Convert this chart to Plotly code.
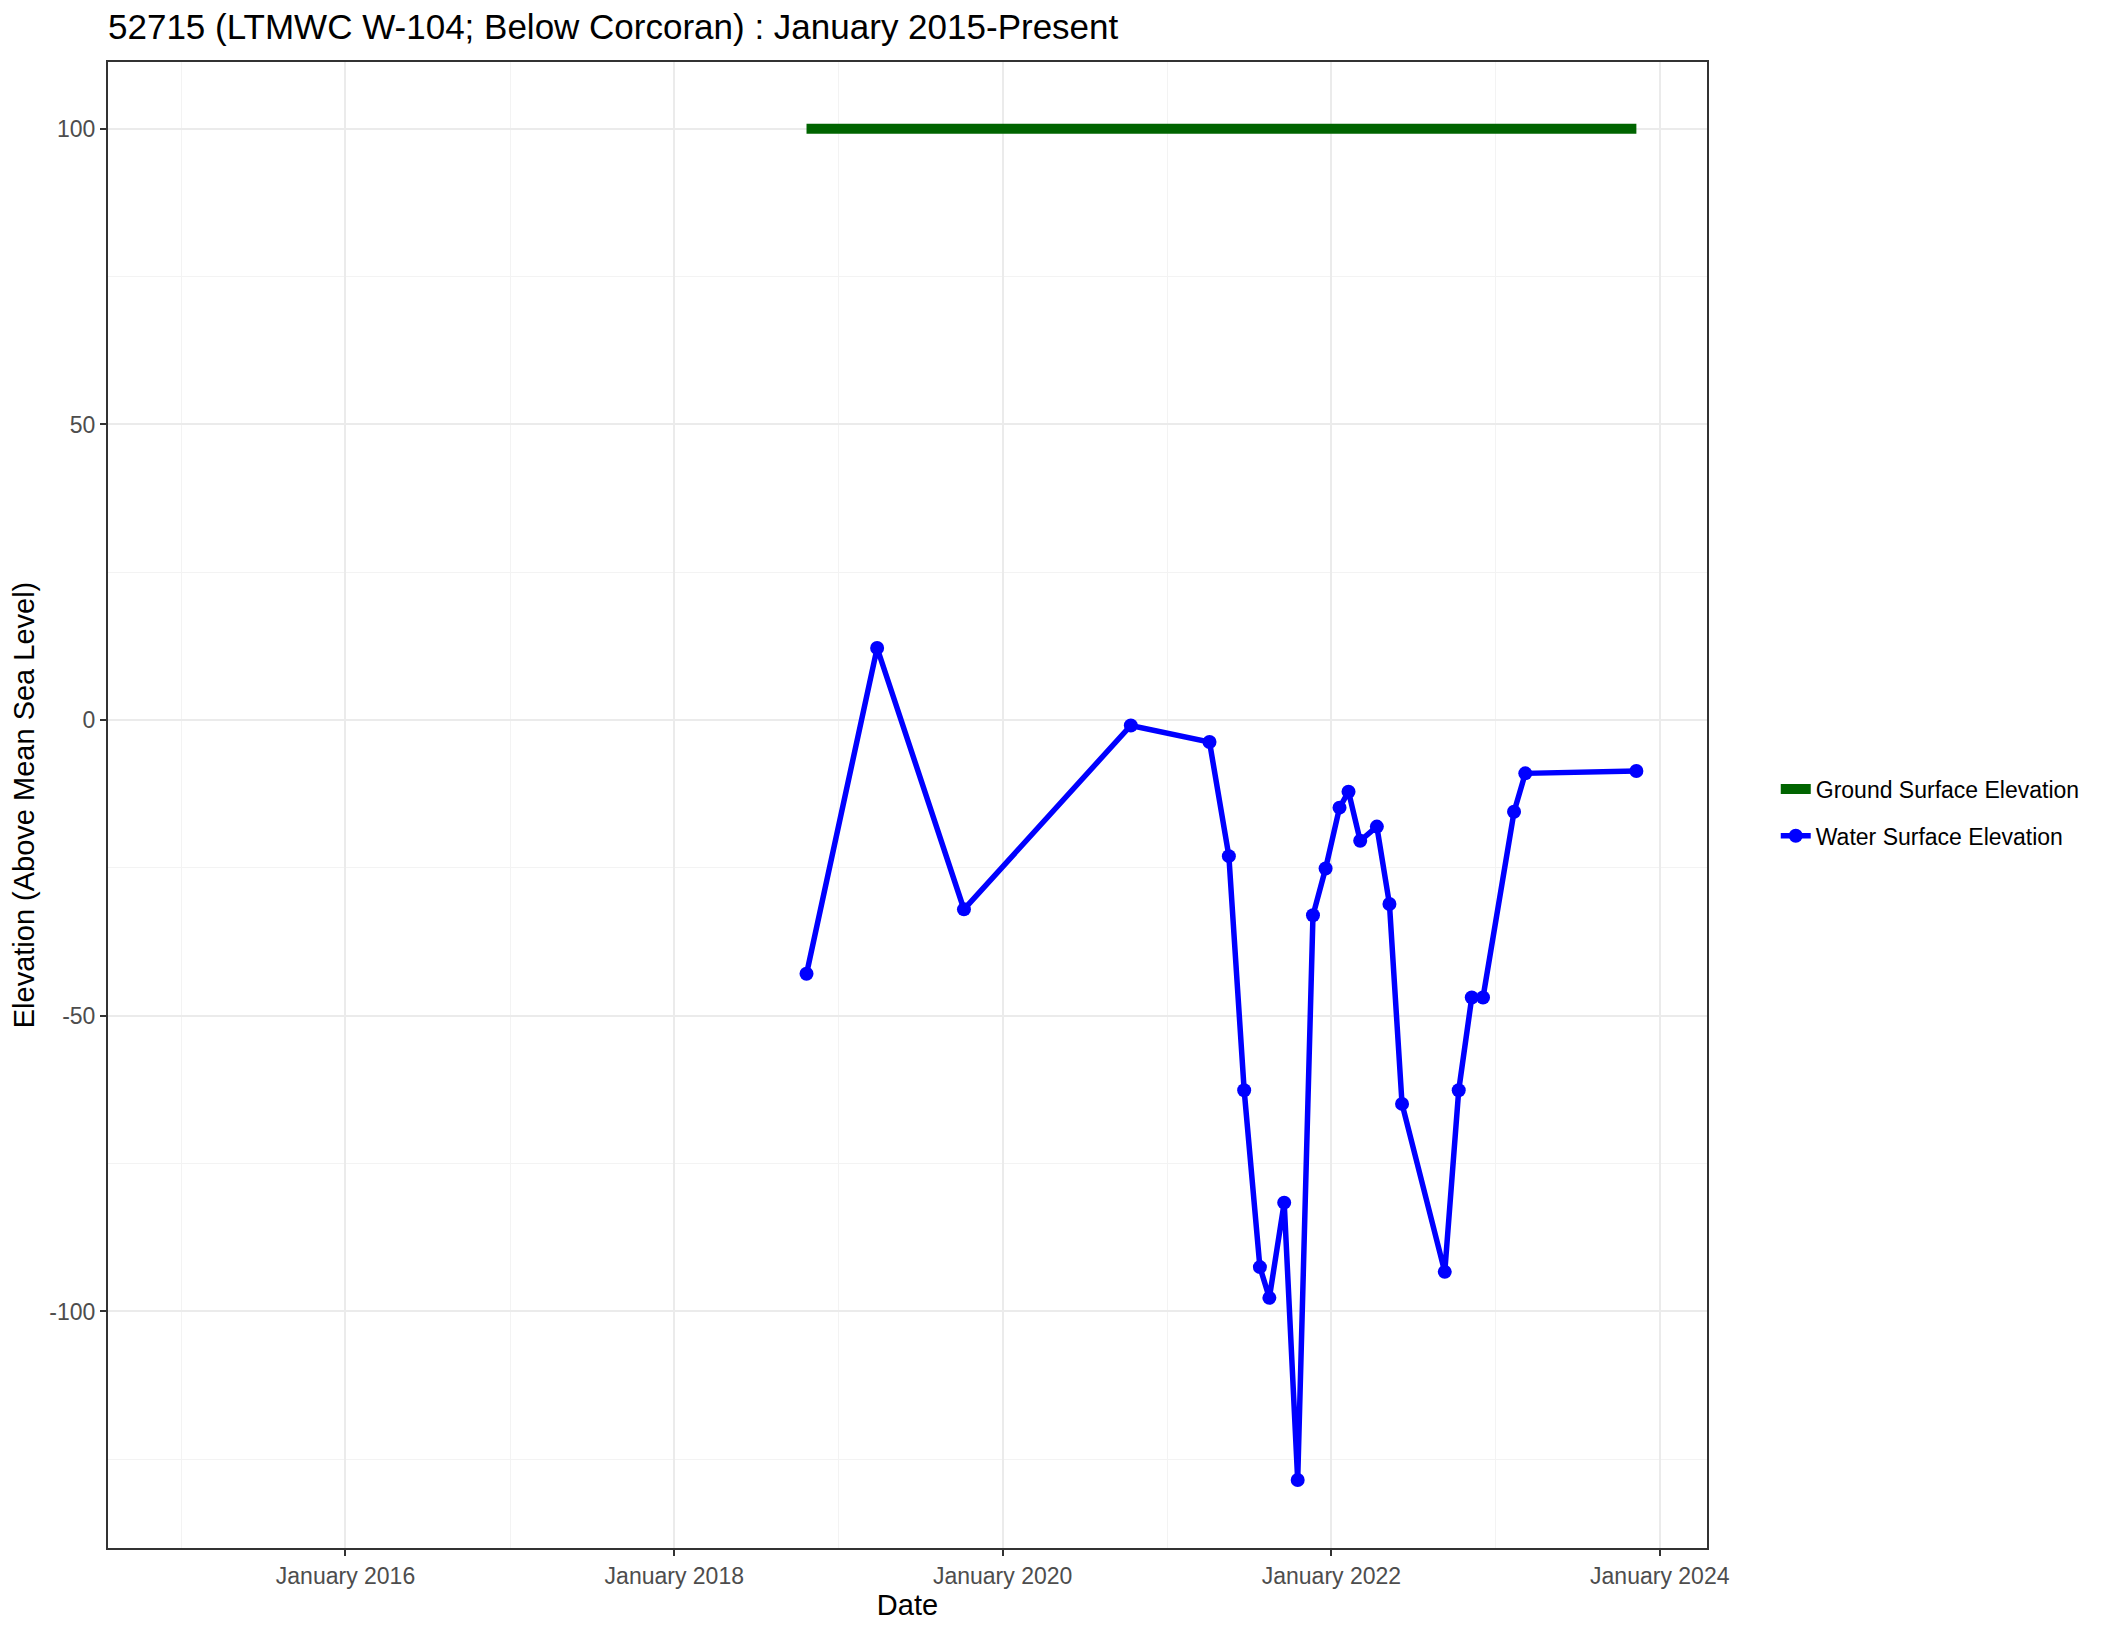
import plotly.graph_objects as go

# ---- data ----
ground_dates = ["2018-10-22", "2023-11-10"]
ground_elev = [100, 100]

water_dates = [
    "2018-10-22", "2019-03-28", "2019-10-07", "2020-10-12", "2021-04-05",
    "2021-05-18", "2021-06-21", "2021-07-26", "2021-08-16", "2021-09-18",
    "2021-10-18", "2021-11-21", "2021-12-19", "2022-01-19", "2022-02-08",
    "2022-03-06", "2022-04-12", "2022-05-10", "2022-06-07", "2022-09-10",
    "2022-10-11", "2022-11-09", "2022-12-04", "2023-02-11", "2023-03-08",
    "2023-11-10",
]
water_elev = [
    -42.9, 12.2, -32.0, -0.9, -3.7,
    -23.0, -62.6, -92.5, -97.7, -81.6,
    -128.5, -33.0, -25.1, -14.8, -12.1,
    -20.4, -18.0, -31.1, -64.9, -93.3,
    -62.6, -46.9, -46.9, -15.5, -9.0,
    -8.6,
]

y_tick_vals = [-100, -50, 0, 50, 100]
y_tick_text = ["-100", "-50", "0", "50", "100"]

title_text = "52715 (LTMWC W-104; Below Corcoran) : January 2015-Present"
x_title = "Date"
y_title = "Elevation (Above Mean Sea Level)"

FONT = "Liberation Sans, Arial, Helvetica, sans-serif"

# the page body adds an 8px offset, so the figure is sized to fit
W, H = 2105, 1621

fig = go.Figure()
fig.add_trace(go.Scatter(
    x=ground_dates, y=ground_elev, mode="lines",
    name="Ground Surface Elevation", legendgroup="g",
    line=dict(color="#006400", width=10),
))
fig.add_trace(go.Scatter(
    x=water_dates, y=water_elev, mode="lines+markers",
    name="Water Surface Elevation", legendgroup="w",
    line=dict(color="#0000FF", width=5.5),
    marker=dict(color="#0000FF", size=14),
))

axis_common = dict(
    showline=True, linecolor="#333333", linewidth=2, mirror=True,
    ticks="outside", ticklen=6, tickwidth=2, tickcolor="#333333",
    tickfont=dict(family=FONT, size=23, color="#4D4D4D"),
    showgrid=True, gridcolor="#EBEBEB", gridwidth=2,
    zeroline=False, automargin=False,
)

fig.update_xaxes(
    **axis_common,
    type="date",
    range=["2014-07-22", "2024-04-15"],
    tick0="2016-01-01", dtick="M24", tickformat="%B %Y",
    minor=dict(dtick="M12", tick0="2015-01-01", showgrid=True,
               gridcolor="#F3F3F3", gridwidth=1, ticks=""),
    title=dict(text=x_title, font=dict(family=FONT, size=29, color="#000000"),
               standoff=2),
)
fig.update_yaxes(
    **axis_common,
    range=[-140.0, 111.3],
    tickmode="array", tickvals=y_tick_vals, ticktext=y_tick_text,
    minor=dict(dtick=25, tick0=0, showgrid=True, gridcolor="#F3F3F3",
               gridwidth=1, ticks=""),
    title=dict(text=y_title, font=dict(family=FONT, size=29, color="#000000"),
               standoff=14),
)

fig.update_layout(
    width=W, height=H,
    margin=dict(l=100, r=406, t=54, b=81, pad=0),
    paper_bgcolor="white", plot_bgcolor="white",
    font=dict(family=FONT, color="#000000"),
    title=dict(text=title_text, x=100 / W, xanchor="left", xref="container",
               y=1 - 19 / H, yanchor="middle", yref="container",
               font=dict(family=FONT, size=35, color="#000000")),
    showlegend=True,
    legend=dict(x=1.043, xanchor="left", y=0.495, yanchor="middle",
                font=dict(family=FONT, size=23, color="#000000"),
                tracegroupgap=14, bgcolor="rgba(0,0,0,0)", itemwidth=30),
)

fig.write_html("out.html")
